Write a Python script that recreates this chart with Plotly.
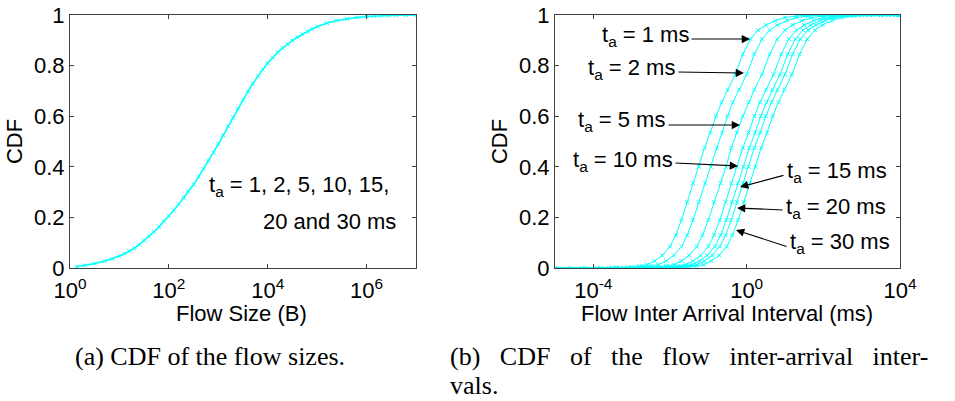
import plotly.graph_objects as go

W, H = 955, 401

# ---------------- data ----------------
# (a) CDF of flow sizes: log10(size in bytes) and CDF
flow_size_log10 = [0.13, 0.3, 0.5, 0.7, 0.85, 1.0, 1.1, 1.2, 1.3, 1.4, 1.5, 1.6, 1.7, 1.8, 1.9,
                   2.0, 2.1, 2.2, 2.3, 2.4, 2.5, 2.6, 2.7, 2.8, 2.9, 3.0, 3.1, 3.2, 3.3, 3.4,
                   3.5, 3.6, 3.7, 3.8, 3.9, 4.0, 4.1, 4.2, 4.3, 4.4, 4.5, 4.6, 4.7, 4.8, 4.9,
                   5.0, 5.2, 5.4, 5.6, 5.8, 6.0, 6.15, 6.3, 6.45, 6.6, 6.8, 7.0]
flow_size_cdf = [0.005, 0.010, 0.018, 0.027, 0.036, 0.047, 0.056, 0.066, 0.078, 0.092, 0.108, 0.125,
                 0.143, 0.163, 0.184, 0.205, 0.228, 0.252, 0.277, 0.303, 0.33, 0.36, 0.391, 0.423,
                 0.456, 0.49, 0.525, 0.56, 0.595, 0.63, 0.665, 0.698, 0.729, 0.758, 0.785, 0.81,
                 0.832, 0.852, 0.869, 0.885, 0.899, 0.912, 0.924, 0.935, 0.945, 0.954, 0.968,
                 0.978, 0.985, 0.990, 0.994, 0.996, 0.997, 0.998, 0.999, 1.0, 1.0]

# (b) CDF of flow inter-arrival intervals: shared CDF levels, per-curve log10(interval in ms)
ta_labels = ["1 ms", "2 ms", "5 ms", "10 ms", "15 ms", "20 ms", "30 ms"]
ia_cdf = [0, 0, 0, 0.001, 0.002, 0.004, 0.008, 0.013, 0.028, 0.05, 0.085, 0.13, 0.19, 0.26, 0.335,
          0.40, 0.475, 0.535, 0.60, 0.655, 0.705, 0.765, 0.845, 0.905, 0.94, 0.96, 0.978, 0.99,
          0.996, 0.999, 1.0, 1.0, 1.0, 1.0]
ia_log10_ta1 = [-5.0, -4.6, -4.2, -3.8, -3.4, -3.0, -2.8, -2.6, -2.4, -2.2, -2.0, -1.85, -1.7, -1.55,
                -1.4, -1.25, -1.1, -0.95, -0.8, -0.65, -0.5, -0.3, -0.1, 0.1, 0.3, 0.5, 0.75, 1.0,
                1.3, 1.6, 2.0, 2.5, 3.0, 4.0]
ia_log10_ta2 = [-5.0, -4.3, -3.9, -3.5, -3.1, -2.7, -2.5, -2.3, -2.1, -1.9, -1.7, -1.55, -1.4, -1.25,
                -1.08, -0.93, -0.78, -0.64, -0.5, -0.36, -0.2, 0.0, 0.2, 0.4, 0.6, 0.8, 1.05, 1.3,
                1.6, 1.9, 2.3, 2.8, 3.3, 4.0]
ia_log10_ta5 = [-5.0, -3.9, -3.5, -3.1, -2.7, -2.3, -2.1, -1.9, -1.7, -1.5, -1.3, -1.15, -1.0, -0.85,
                -0.68, -0.54, -0.4, -0.25, -0.1, 0.06, 0.2, 0.4, 0.6, 0.8, 1.0, 1.2, 1.45, 1.7,
                2.0, 2.3, 2.7, 3.2, 3.7, 4.0]
ia_log10_ta10 = [-5.0, -3.6, -3.2, -2.8, -2.4, -2.0, -1.8, -1.6, -1.4, -1.2, -1.0, -0.85, -0.7, -0.55,
                 -0.4, -0.25, -0.1, 0.05, 0.2, 0.35, 0.5, 0.7, 0.9, 1.1, 1.3, 1.5, 1.75, 2.0,
                 2.3, 2.6, 3.0, 3.5, 3.9, 4.0]
ia_log10_ta15 = [-5.0, -3.43, -3.03, -2.63, -2.23, -1.83, -1.63, -1.43, -1.23, -1.03, -0.83, -0.68,
                 -0.53, -0.38, -0.23, -0.08, 0.07, 0.22, 0.37, 0.52, 0.67, 0.87, 1.07, 1.27, 1.47,
                 1.67, 1.92, 2.17, 2.47, 2.77, 3.17, 3.6, 3.95, 4.0]
ia_log10_ta20 = [-5.0, -3.3, -2.9, -2.5, -2.1, -1.7, -1.5, -1.3, -1.1, -0.9, -0.7, -0.55, -0.4, -0.25,
                 -0.1, 0.05, 0.2, 0.35, 0.5, 0.65, 0.8, 1.0, 1.2, 1.4, 1.6, 1.8, 2.05, 2.3,
                 2.6, 2.9, 3.3, 3.7, 3.97, 4.0]
ia_log10_ta30 = [-5.0, -3.12, -2.72, -2.32, -1.92, -1.52, -1.32, -1.12, -0.92, -0.72, -0.52, -0.37,
                 -0.22, -0.07, 0.08, 0.23, 0.38, 0.53, 0.68, 0.83, 0.98, 1.18, 1.38, 1.58, 1.78,
                 1.98, 2.23, 2.48, 2.78, 3.08, 3.48, 3.8, 3.98, 4.0]
ia_curves = [ia_log10_ta1, ia_log10_ta2, ia_log10_ta5, ia_log10_ta10,
             ia_log10_ta15, ia_log10_ta20, ia_log10_ta30]

y_ticks = [0, 0.2, 0.4, 0.6, 0.8, 1]
y_ticktext = ["0", "0.2", "0.4", "0.6", "0.8", "1"]
xa_ticks = [1, 1e2, 1e4, 1e6]
xa_ticktext = ["10<sup>0</sup>", "10<sup>2</sup>", "10<sup>4</sup>", "10<sup>6</sup>"]
xb_ticks = [1e-4, 1, 1e4]
xb_ticktext = ["10<sup>-4</sup>", "10<sup>0</sup>", "10<sup>4</sup>"]

# ---------------- figure ----------------
CYAN = "#00FFFF"
AXC = "#404040"
FONT = "Liberation Sans, Arial, sans-serif"
SERIF = "Liberation Serif, Times New Roman, serif"
FS = 22

fig = go.Figure()
fig.add_trace(go.Scatter(
    x=[10 ** v for v in flow_size_log10], y=flow_size_cdf, mode="lines+markers",
    line=dict(color=CYAN, width=1.6),
    marker=dict(symbol="x-thin", size=4, line=dict(color=CYAN, width=1)),
    xaxis="x", yaxis="y", showlegend=False, name="Flow size CDF"))

for lab, xs in zip(ta_labels, ia_curves):
    fig.add_trace(go.Scatter(
        x=[10 ** v for v in xs], y=ia_cdf, mode="lines+markers",
        line=dict(color=CYAN, width=1),
        marker=dict(symbol="x-thin", size=4, line=dict(color=CYAN, width=1)),
        xaxis="x2", yaxis="y2", showlegend=False, name="t_a = " + lab))

def px(x):
    return x / W

def py(y):
    return 1 - y / H

ydom = [py(268), py(15)]
tick_font = dict(family=FONT, size=FS, color="black")
common = dict(showline=True, linecolor=AXC, linewidth=1, mirror="ticks", ticks="inside",
              ticklen=4, tickcolor=AXC, showgrid=False, zeroline=False, automargin=False,
              tickfont=tick_font)
xcommon = dict(ticklabelstandoff=3, **common)

fig.update_layout(
    width=W, height=H, margin=dict(l=0, r=0, t=0, b=0, autoexpand=False),
    paper_bgcolor="white", plot_bgcolor="white",
    xaxis=dict(type="log", range=[0, 7], domain=[px(70), px(416)], anchor="y",
               tickvals=xa_ticks, ticktext=xa_ticktext, **xcommon),
    yaxis=dict(range=[0, 1], domain=ydom, anchor="x", tickvals=y_ticks, ticktext=y_ticktext,
               title=dict(text="CDF", font=tick_font, standoff=5), **common),
    xaxis2=dict(type="log", range=[-5, 4], domain=[px(555), px(900)], anchor="y2",
                tickvals=xb_ticks, ticktext=xb_ticktext, **xcommon),
    yaxis2=dict(range=[0, 1], domain=ydom, anchor="x2", tickvals=y_ticks, ticktext=y_ticktext,
                title=dict(text="CDF", font=tick_font, standoff=5), **common),
)

annos = []
tfont = dict(family=FONT, size=FS, color="black")

# x-axis titles
annos.append(dict(text="Flow Size (B)", x=px(242), y=py(313), xref="paper", yref="paper",
                  xanchor="center", yanchor="middle", showarrow=False, font=tfont))
annos.append(dict(text="Flow Inter Arrival Interval (ms)", x=px(727), y=py(313), xref="paper",
                  yref="paper", xanchor="center", yanchor="middle", showarrow=False, font=tfont))

# text labels (left x, centre y in pixels)
texts_b = [("t<sub>a</sub> = 1 ms", 600, 36),
           ("t<sub>a</sub> = 2 ms", 586, 69),
           ("t<sub>a</sub> = 5 ms", 576, 121),
           ("t<sub>a</sub> = 10 ms", 571, 161),
           ("t<sub>a</sub> = 15 ms", 785, 172),
           ("t<sub>a</sub> = 20 ms", 784, 208),
           ("t<sub>a</sub> = 30 ms", 788, 243)]
for t, x0, y0 in texts_b:
    annos.append(dict(text=t, x=px(x0), y=py(y0), xref="paper", yref="paper",
                      xanchor="left", yanchor="middle", showarrow=False, font=tfont))

# arrows: (tail x, tail y, tip x, tip y) in pixels
arrows = [(690, 39, 750, 39), (677, 72, 744, 73), (667, 125, 740, 125), (674, 163, 738, 166),
          (785, 175, 740, 187), (784, 210, 737, 208), (788, 247, 736, 230)]
for tx, ty, hx, hy in arrows:
    annos.append(dict(text="", x=px(hx), y=py(hy), xref="paper", yref="paper",
                      ax=tx - hx, ay=ty - hy, showarrow=True, arrowhead=2, arrowsize=1.5,
                      arrowwidth=1.1, arrowcolor="black", standoff=0))

# left panel label
annos.append(dict(text="t<sub>a</sub> = 1, 2, 5, 10, 15,", x=px(207), y=py(186), xref="paper",
                  yref="paper", xanchor="left", yanchor="middle", showarrow=False, font=tfont))
annos.append(dict(text="20 and 30 ms", x=px(398), y=py(221), xref="paper", yref="paper",
                  xanchor="right", yanchor="middle", showarrow=False, font=tfont))

# captions
cfont = dict(family=SERIF, size=26, color="black")
G = " &nbsp;&nbsp;"
annos.append(dict(text="(a) CDF of the flow sizes.", x=px(210), y=py(356), xref="paper",
                  yref="paper", xanchor="center", yanchor="middle", showarrow=False, font=cfont))
annos.append(dict(text=G.join(["(b)", "CDF", "of", "the", "flow", "inter-arrival", "inter-"]),
                  x=px(448), y=py(356), xref="paper", yref="paper", xanchor="left",
                  yanchor="middle", showarrow=False, font=cfont))
annos.append(dict(text="vals.", x=px(448), y=py(385), xref="paper", yref="paper",
                  xanchor="left", yanchor="middle", showarrow=False, font=cfont))

fig.update_layout(annotations=annos)
fig.write_html("out.html")
